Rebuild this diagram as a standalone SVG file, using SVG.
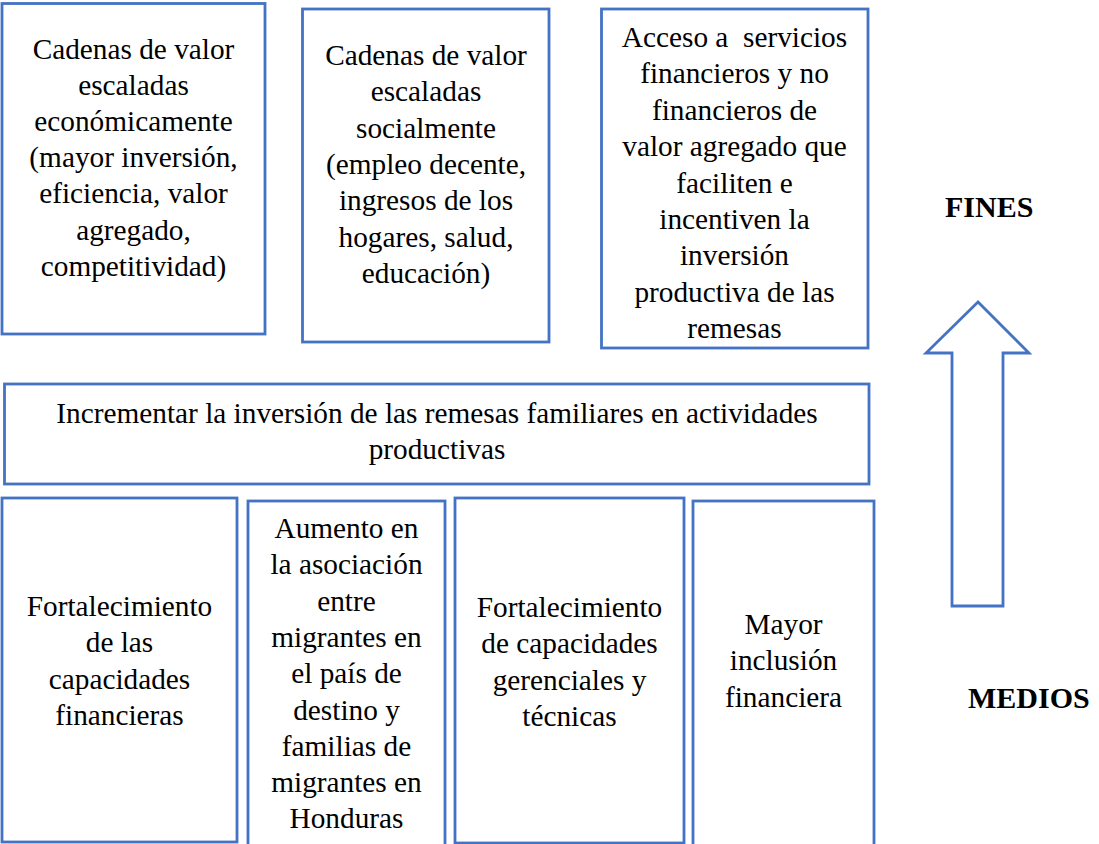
<svg xmlns="http://www.w3.org/2000/svg" width="1099" height="844" viewBox="0 0 1099 844">
<style>
.box{fill:#fff;stroke:#4472C4;stroke-width:2.8}
.t{font-family:"Liberation Serif","Times New Roman",serif;font-size:29.3px;fill:#000;text-anchor:middle}
.b{font-family:"Liberation Serif","Times New Roman",serif;font-size:30px;font-weight:bold;fill:#000}
</style>
<rect width="1099" height="844" fill="#fff"/>
<g id="fin1">
<rect class="box" x="2" y="3.5" width="263" height="330.5"/>
<text class="t"><tspan x="133.5" y="58.5">Cadenas de valor</tspan><tspan x="133.5" y="94.7">escaladas</tspan><tspan x="133.5" y="130.9">económicamente</tspan><tspan x="133.5" y="167.1">(mayor inversión,</tspan><tspan x="133.5" y="203.3">eficiencia, valor</tspan><tspan x="133.5" y="239.5">agregado,</tspan><tspan x="133.5" y="275.7">competitividad)</tspan></text>
</g>
<g id="fin2">
<rect class="box" x="302.5" y="9" width="246.5" height="333"/>
<text class="t"><tspan x="426" y="65">Cadenas de valor</tspan><tspan x="426" y="101.3">escaladas</tspan><tspan x="426" y="137.6">socialmente</tspan><tspan x="426" y="173.9">(empleo decente,</tspan><tspan x="426" y="210.2">ingresos de los</tspan><tspan x="426" y="246.5">hogares, salud,</tspan><tspan x="426" y="282.8">educación)</tspan></text>
</g>
<g id="fin3">
<rect class="box" x="601.5" y="9" width="266.5" height="339"/>
<text class="t" xml:space="preserve"><tspan x="734.5" y="47">Acceso a  servicios</tspan><tspan x="734.5" y="83.4">financieros y no</tspan><tspan x="734.5" y="119.8">financieros de</tspan><tspan x="734.5" y="156.2">valor agregado que</tspan><tspan x="734.5" y="192.6">faciliten e</tspan><tspan x="734.5" y="229">incentiven la</tspan><tspan x="734.5" y="265.4">inversión</tspan><tspan x="734.5" y="301.8">productiva de las</tspan><tspan x="734.5" y="338.2">remesas</tspan></text>
</g>
<g id="objetivo">
<rect class="box" x="4.5" y="384" width="864.5" height="100"/>
<text class="t"><tspan x="437" y="423">Incrementar la inversión de las remesas familiares en actividades</tspan><tspan x="437" y="459">productivas</tspan></text>
</g>
<g id="medio1">
<rect class="box" x="2" y="498" width="235" height="344"/>
<text class="t"><tspan x="119.5" y="616">Fortalecimiento</tspan><tspan x="119.5" y="652.3">de las</tspan><tspan x="119.5" y="688.6">capacidades</tspan><tspan x="119.5" y="724.9">financieras</tspan></text>
</g>
<g id="medio2">
<rect class="box" x="248" y="501" width="197" height="345"/>
<text class="t"><tspan x="346.5" y="538">Aumento en</tspan><tspan x="346.5" y="574.3">la asociación</tspan><tspan x="346.5" y="610.6">entre</tspan><tspan x="346.5" y="646.9">migrantes en</tspan><tspan x="346.5" y="683.2">el país de</tspan><tspan x="346.5" y="719.5">destino y</tspan><tspan x="346.5" y="755.8">familias de</tspan><tspan x="346.5" y="792.1">migrantes en</tspan><tspan x="346.5" y="828.4">Honduras</tspan></text>
</g>
<g id="medio3">
<rect class="box" x="455" y="498" width="229" height="345"/>
<text class="t"><tspan x="569.5" y="617">Fortalecimiento</tspan><tspan x="569.5" y="653.3">de capacidades</tspan><tspan x="569.5" y="689.6">gerenciales y</tspan><tspan x="569.5" y="725.9">técnicas</tspan></text>
</g>
<g id="medio4">
<rect class="box" x="693" y="501" width="181" height="345"/>
<text class="t"><tspan x="783.5" y="634">Mayor</tspan><tspan x="783.5" y="670.3">inclusión</tspan><tspan x="783.5" y="706.6">financiera</tspan></text>
</g>
<g id="connectors">
<polygon class="box" points="978,302 926,353 952,353 952,606 1003,606 1003,353 1029,353"/>
</g>
<g id="labels">
<text class="b" x="945" y="217">FINES</text>
<text class="b" x="968" y="708">MEDIOS</text>
</g>
</svg>
